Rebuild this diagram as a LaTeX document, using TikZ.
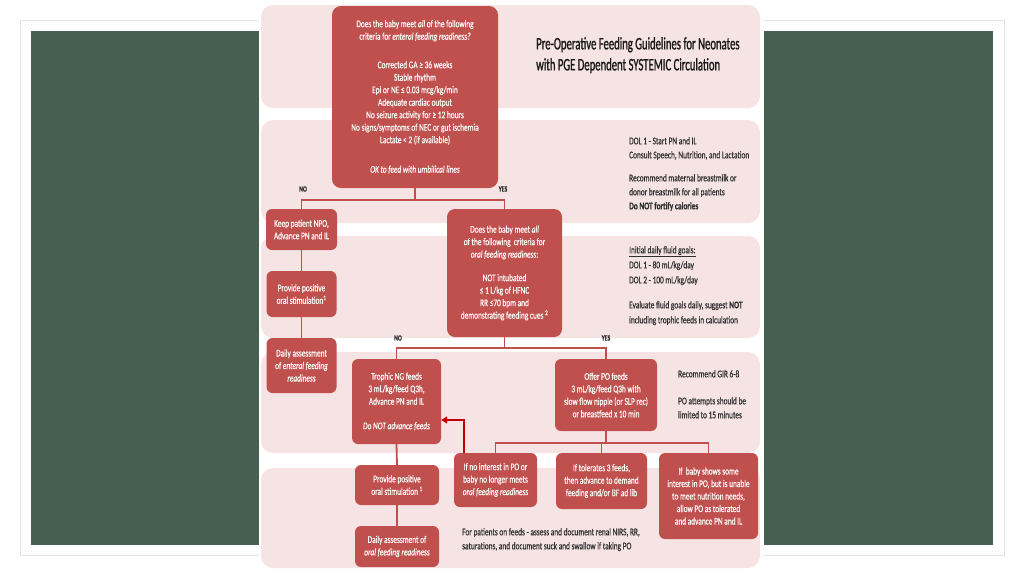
\documentclass[tikz,border=0pt]{standalone}
\usepackage{fontspec}
\setmainfont{Carlito}[FakeStretch=0.72,FakeBold=0.4]
\newfontfamily\titlefont{Carlito}[FakeStretch=0.61,FakeBold=1.1]
\usetikzlibrary{arrows.meta}
\definecolor{boxred}{HTML}{C0504D}
\definecolor{bandpink}{HTML}{F6E4E4}
\definecolor{slate}{HTML}{465F51}
\definecolor{framegray}{HTML}{E4E4E4}
\definecolor{arrowred}{HTML}{C00000}
\definecolor{ink}{HTML}{2E2E2E}
\begin{document}
\begin{tikzpicture}[x=1pt,y=-1pt,
  rbox/.style={fill=boxred, rounded corners=6pt, text=white, align=center, inner sep=1pt, font=\fontsize{10.2}{12.5}\selectfont},
  band/.style={fill=bandpink, rounded corners=12pt},
  link/.style={draw=boxred, line width=1.8pt},
  back/.style={draw=arrowred, line width=1.6pt, -{Triangle[length=6pt,width=7pt]}},
  side/.style={text=ink, align=left, anchor=north west, inner sep=0pt, font=\fontsize{10.2}{14}\selectfont},
  yn/.style={text=ink, font=\bfseries\fontsize{8}{9}\selectfont, inner sep=0pt}
]
\useasboundingbox (0,0) rectangle (1024,576);
\fill[white] (0,0) rectangle (1024,576);
\draw[framegray, line width=1pt] (20,20) rectangle (1004,555);
\fill[slate] (31,31) rectangle (993,545);
\fill[white] (259,0) rectangle (764,576);
\fill[band] (261,5) rectangle (760,108);
\fill[band] (261,120) rectangle (760,223);
\fill[band] (261,236) rectangle (760,338);
\fill[band] (261,352) rectangle (760,453);
\fill[band] (261,468) rectangle (760,568);

% boxes
\node[rbox, rounded corners=9pt, minimum width=166pt, minimum height=182pt] (q1) at (415,97)
 {Does the baby meet \textit{all} of the following\\criteria for \textit{enteral feeding readiness?}\\[16pt]
  Corrected GA ≥ 36 weeks\\Stable rhythm\\Epi or NE ≤ 0.03 mcg/kg/min\\Adequate cardiac output\\
  No seizure activity for ≥ 12 hours\\No signs/symptoms of NEC or gut ischemia\\Lactate < 2 (if available)\\[17pt]
  \textit{OK to feed with umbilical lines}};
\node[rbox, minimum width=71pt, minimum height=41pt] (npo) at (301.5,229.5)
 {Keep patient NPO,\\Advance PN and IL};
\node[rbox, minimum width=70pt, minimum height=46pt] (stima) at (301.5,294)
 {Provide positive\\oral stimulation\textsuperscript{1}};
\node[rbox, minimum width=70pt, minimum height=55pt] (dailya) at (301.5,365.5)
 {Daily assessment\\of \textit{enteral feeding}\\\textit{readiness}};
\node[rbox, rounded corners=8pt, minimum width=115pt, minimum height=128pt] (q2) at (504.5,273)
 {Does the baby meet \textit{all}\\of the following\ \ criteria for\\\textit{oral feeding readiness}:\\[11pt]
  NOT intubated\\≤ 1 L/kg of HFNC\\RR ≤70 bpm and\\demonstrating feeding cues \textsuperscript{2}};
\node[rbox, minimum width=89pt, minimum height=85pt] (troph) at (396.5,401.5)
 {Trophic NG feeds\\3 mL/kg/feed Q3h,\\Advance PN and IL\\[12pt]\textit{Do NOT advance feeds}};
\node[rbox, minimum width=102pt, minimum height=72pt] (po) at (606,395)
 {Offer PO feeds\\3 mL/kg/feed Q3h with\\slow flow nipple (or SLP rec)\\or breastfeed x 10 min};
\node[rbox, minimum width=84pt, minimum height=40pt] (stimb) at (397,485)
 {Provide positive\\oral stimulation \textsuperscript{1}};
\node[rbox, minimum width=84pt, minimum height=41pt] (dailyb) at (397,546.5)
 {Daily assessment of\\\textit{oral feeding readiness}};
\node[rbox, minimum width=83pt, minimum height=54pt] (noint) at (495.5,480)
 {If no interest in PO or\\baby no longer meets\\\textit{oral feeding readiness}};
\node[rbox, minimum width=91pt, minimum height=56pt] (tol) at (601.5,481)
 {If tolerates 3 feeds,\\then advance to demand\\feeding and/or BF ad lib};
\node[rbox, minimum width=99pt, minimum height=86pt] (shows) at (708.5,496)
 {If\ \ baby shows some\\interest in PO, but is unable\\to meet nutrition needs,\\allow PO as tolerated\\and advance PN and IL};

% connectors
\draw[link] (q1.south) -- ++(0,12) -| (npo.north);
\draw[link] (q1.south) -- ++(0,12) -| (q2.north);
\draw[link] (npo.south) -- (stima.north);
\draw[link] (stima.south) -- (dailya.north);
\draw[link] (q2.south) -- ++(0,11) -| (troph.north);
\draw[link] (q2.south) -- ++(0,11) -| (po.north);
\draw[link] (troph.south) -- (stimb.north);
\draw[link] (stimb.south) -- (dailyb.north);
\draw[link] (po.south) -- ++(0,12) -| (noint.north);
\draw[link] (po.south) -- ++(0,12) -| (tol.north);
\draw[link] (po.south) -- ++(0,12) -| (shows.north);
\draw[back] ([xshift=-31.5pt]noint.north) |- ([yshift=-18.5pt]troph.east);

% yes/no labels
\node[yn] (noa) at (303,189) {NO};
\node[yn] (yesa) at (503,189) {YES};
\node[yn] (nob) at (398,338) {NO};
\node[yn] (yesb) at (606,338) {YES};

% side texts
\node[text=black!90, align=left, anchor=north west, inner sep=0pt, font=\titlefont\fontsize{17.5}{21}\selectfont] (title) at (536,37)
 {Pre-Operative Feeding Guidelines for Neonates\\with PGE Dependent SYSTEMIC Circulation};
\node[side] (dol) at (629,137)
 {DOL 1 - Start PN and IL\\Consult Speech, Nutrition, and Lactation\\[9pt]Recommend maternal breastmilk or\\donor breastmilk for all patients\\\textbf{Do NOT fortify calories}};
\node[side, font=\fontsize{10.2}{15}\selectfont] (fluid) at (629,246)
 {\underline{Initial daily fluid goals:}\\DOL 1 - 80 mL/kg/day\\DOL 2 - 100 mL/kg/day\\[10pt]Evaluate fluid goals daily, suggest \textbf{NOT}\\including trophic feeds in calculation};
\node[side] (gir) at (678,370)
 {Recommend GIR 6-8\\[13pt]PO attempts should be\\limited to 15 minutes};
\node[side] (feeds) at (462,528)
 {For patients on feeds - assess and document renal NIRS, RR,\\saturations, and document suck and swallow if taking PO};
\end{tikzpicture}
\end{document}
